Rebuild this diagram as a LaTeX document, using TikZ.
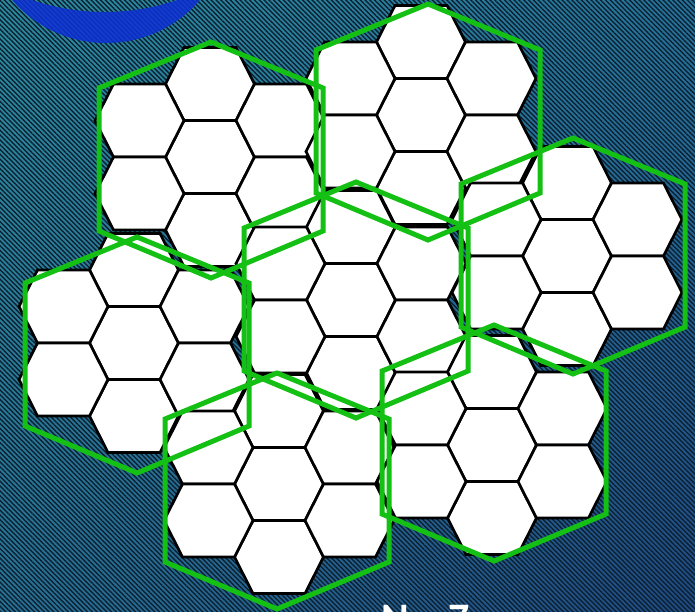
\documentclass[tikz,border=0pt]{standalone}
\usepackage{fontspec}
\newfontfamily\labelfont{Carlito}
\usetikzlibrary{patterns.meta,shadings}
\definecolor{bgTL}{RGB}{44,140,160}
\definecolor{bgTR}{RGB}{38,116,156}
\definecolor{bgBL}{RGB}{40,114,150}
\definecolor{bgBR}{RGB}{32,74,132}
\definecolor{stripe}{RGB}{12,32,48}
\definecolor{ringblue}{RGB}{14,48,214}
\definecolor{clustergreen}{RGB}{20,192,20}
\tikzset{
  cell/.style={fill=white, draw=black, line width=2.7pt, line join=miter},
  clusterline/.style={draw=clustergreen, line width=5pt, line join=miter},
}
\begin{document}
\begin{tikzpicture}[x=1pt,y=-1pt]
\useasboundingbox (0,0) rectangle (695,611);
\begin{scope}
\clip (0,0) rectangle (695,611);
% background
\shade[upper left=bgTL, upper right=bgTR, lower left=bgBL, lower right=bgBR] (0,0) rectangle (695,611);
\fill[pattern={Lines[angle=-45,distance=3.4pt,line width=1.4pt]}, pattern color=stripe, fill opacity=0.8] (0,0) rectangle (695,611);
% blue arc
\begin{scope}
\clip (106,-81) circle (124pt);
\fill[ringblue, opacity=0.85, even odd rule] (106,-81) circle (124pt) (104.5,-213) circle (225pt);
\end{scope}
% white cells
\foreach \cx/\cy in {210/157, 421/115, 567/256, 351/300, 134/343, 279/484, 492/445} {
  \foreach \dx/\dy in {0/0, 0/-73, 0/73, 70.5/-36.5, 70.5/36.5, -70.5/-36.5, -70.5/36.5} {
    \draw[cell, shift={(\cx,\cy)}, shift={(\dx,\dy)}]
      (-44.5,0) -- (-26,-36.5) -- (26,-36.5) -- (44.5,0) -- (26,36.5) -- (-26,36.5) -- cycle;
  }
}
% green cluster outlines
\foreach \gx/\gy in {211/160, 428/122, 573/256, 356/300, 137/355, 277/491, 494/443} {
  \draw[clusterline, shift={(\gx,\gy)}]
    (0,-118) -- (112,-72) -- (112,71) -- (0,118) -- (-112,71) -- (-112,-72) -- cycle;
}
% label (cut off at the bottom edge, as in the reference)
\node[font=\labelfont\bfseries\fontsize{42}{42}\selectfont, text=white, anchor=base west, inner sep=0] (label) at (381,632) {N = 7};
\end{scope}
\end{tikzpicture}
\end{document}
